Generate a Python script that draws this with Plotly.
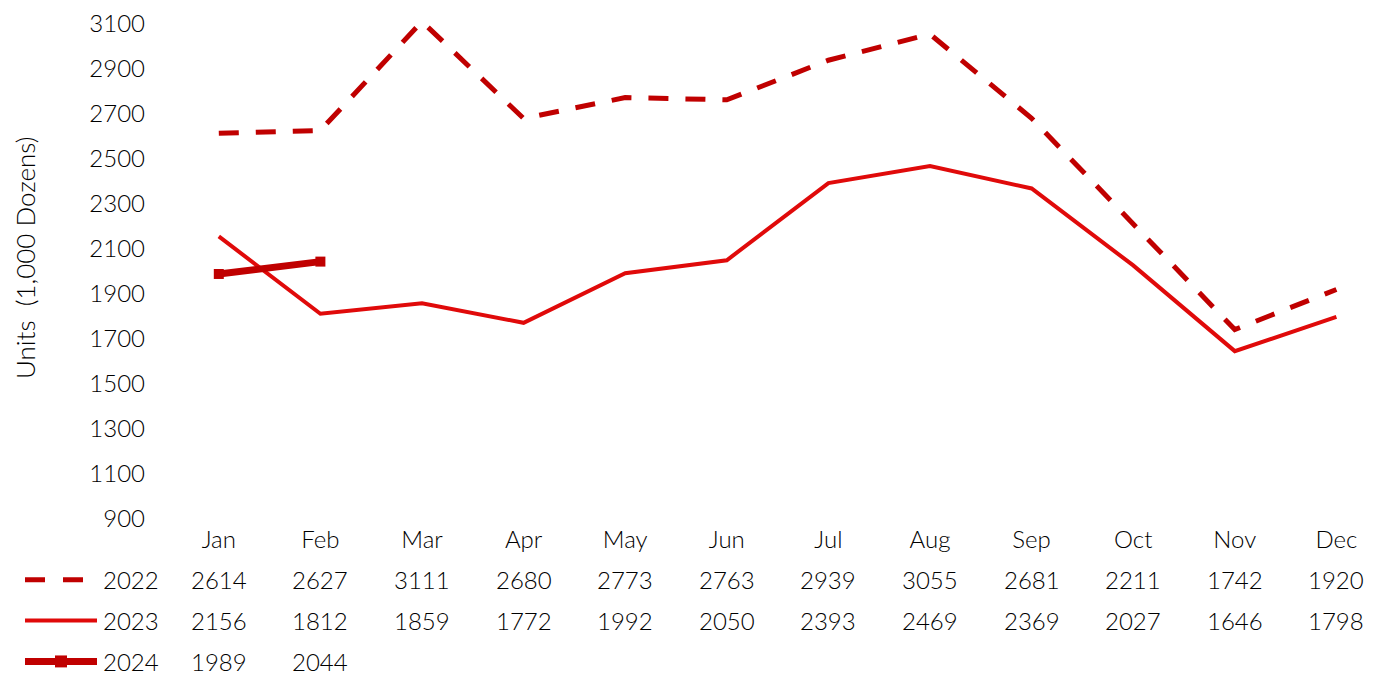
import plotly.graph_objects as go

months = ["Jan", "Feb", "Mar", "Apr", "May", "Jun", "Jul", "Aug", "Sep", "Oct", "Nov", "Dec"]
units_2022 = [2614, 2627, 3111, 2680, 2773, 2763, 2939, 3055, 2681, 2211, 1742, 1920]
units_2023 = [2156, 1812, 1859, 1772, 1992, 2050, 2393, 2469, 2369, 2027, 1646, 1798]
units_2024 = [1989, 2044]
years = ["2022", "2023", "2024"]

# page body has an 8px margin, so the figure is drawn 8px in from the top-left
OFF = 8
W, H = 1375 - OFF, 679 - OFF
L, R, T, B = 168 - OFF, 0, 22 - OFF, 160
FONT = "Century Gothic, Lato, sans-serif"
TXT = dict(size=24, color="black", family=FONT, weight=300)
DARK_RED = "#C00000"
RED = "#E00A0A"


def px_x(px):
    # page pixel -> paper x
    return (px - OFF - L) / (W - L - R)


def px_y(py):
    # page pixel -> paper y
    return (H - B - (py - OFF)) / (H - T - B)


fig = go.Figure()

fig.add_trace(go.Scatter(x=months, y=units_2022, mode="lines", name="2022",
                         line=dict(color=DARK_RED, width=5, dash="20px,17px"),
                         cliponaxis=False))
fig.add_trace(go.Scatter(x=months, y=units_2023, mode="lines", name="2023",
                         line=dict(color=RED, width=4)))
fig.add_trace(go.Scatter(x=months[:len(units_2024)], y=units_2024, mode="lines+markers", name="2024",
                         line=dict(color=DARK_RED, width=7),
                         marker=dict(symbol="square", size=10, color=DARK_RED)))

# data table under the chart
rows = [(units_2022, 580), (units_2023, 621), (units_2024, 662)]
for (vals, py), year in zip(rows, years):
    for m, v in zip(months, vals):
        fig.add_annotation(x=m, xref="x", y=px_y(py), yref="paper", text=str(v),
                           showarrow=False, xanchor="center", yanchor="middle", font=TXT)
    fig.add_annotation(x=px_x(101), xref="paper", y=px_y(py), yref="paper", text=year,
                       showarrow=False, xanchor="left", yanchor="middle", font=TXT)

# legend keys in the table
fig.add_shape(type="line", xref="paper", yref="paper", x0=px_x(25), x1=px_x(83),
              y0=px_y(580), y1=px_y(580), line=dict(color=DARK_RED, width=5, dash="20px,18px"))
fig.add_shape(type="line", xref="paper", yref="paper", x0=px_x(25), x1=px_x(97),
              y0=px_y(621), y1=px_y(621), line=dict(color=RED, width=4))
fig.add_shape(type="line", xref="paper", yref="paper", x0=px_x(25), x1=px_x(97),
              y0=px_y(662), y1=px_y(662), line=dict(color=DARK_RED, width=7))
fig.add_shape(type="rect", xref="paper", yref="paper", x0=px_x(55), x1=px_x(67),
              y0=px_y(668), y1=px_y(656), line=dict(width=0), fillcolor=DARK_RED)

fig.add_annotation(x=px_x(25), xref="paper", y=px_y(257), yref="paper",
                   text="Units  (1,000 Dozens)", textangle=-90, showarrow=False,
                   xanchor="center", yanchor="middle", font=dict(TXT, size=26))

fig.update_xaxes(range=[-0.5, -0.5 + (W - L - R) / 101.6], showgrid=False, zeroline=False,
                 showline=False, ticks="", ticklabelstandoff=4, tickfont=TXT)
fig.update_yaxes(range=[900, 3100], dtick=200, tick0=900, showgrid=False, zeroline=False,
                 showline=False, ticks="", ticklabelstandoff=22, ticklabeloverflow="allow",
                 tickfont=TXT)

fig.update_layout(width=W, height=H, margin=dict(l=L, r=R, t=T, b=B),
                  paper_bgcolor="white", plot_bgcolor="white", showlegend=False,
                  font=dict(family=FONT, color="black"))

fig.write_html("out.html")
